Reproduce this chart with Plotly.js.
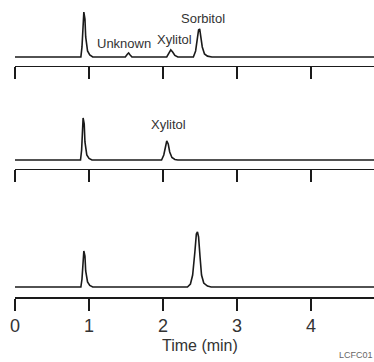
<!DOCTYPE html>
<html>
<head>
<meta charset="utf-8">
<script src="https://cdn.plot.ly/plotly-3.0.1.min.js"></script>
<style>html,body{margin:0;padding:0;background:#fff;}#chart{width:374px;height:362px;}</style>
</head>
<body>
<div id="chart"></div>
<script>
// Chromatogram traces (time in min, detector response in arbitrary units, baseline = 0)
const timeTop = [0, 0.89, 0.905, 0.92, 0.93, 0.945, 0.955, 0.98, 1.01, 1.05, 1.49, 1.52, 1.535, 1.55, 1.58, 2.05, 2.08, 2.105, 2.13, 2.16, 2.2, 2.41, 2.44, 2.46, 2.48, 2.495, 2.51, 2.53, 2.56, 2.6, 2.66, 4.85];
const signalTop = [0, 0, 10, 35, 45, 38, 20, 6, 2, 0, 0, 3, 4, 2.5, 0, 0, 4, 7, 5, 1.5, 0, 0, 6, 18, 27, 28, 22, 10, 3, 0.8, 0, 0];

const timeMid = [0, 0.885, 0.9, 0.91, 0.92, 0.935, 0.945, 0.97, 1.0, 1.04, 1.98, 2.01, 2.03, 2.05, 2.07, 2.09, 2.12, 2.16, 2.2, 4.85];
const signalMid = [0, 0, 10, 32, 42, 36, 18, 5, 1.5, 0, 0, 5, 14, 19, 16, 8, 2.5, 0.5, 0, 0];

const timeBot = [0, 0.89, 0.905, 0.92, 0.93, 0.945, 0.955, 0.98, 1.01, 1.05, 2.33, 2.37, 2.40, 2.43, 2.45, 2.465, 2.48, 2.50, 2.52, 2.55, 2.6, 2.65, 4.85];
const signalBot = [0, 0, 8, 28, 36, 31, 16, 5, 1.5, 0, 0, 3, 12, 35, 53, 55, 50, 30, 12, 4, 1, 0, 0];

// Peak labels: [text, time, response]
const labelsTop = [["Unknown", 1.47, 13], ["Xylitol", 2.15, 17], ["Sorbitol", 2.54, 39]];
const labelsMid = [["Xylitol", 2.07, 35]];
const labelsBot = [["Sorbitol", 2.47, 65]];

const tickVals = [0, 1, 2, 3, 4];
const tickText = ["0", "1", "2", "3", "4"];
const xRange = [0, 4.85];
const axisTitle = "Time (min)";
const figId = "LCFC01";

const FONT = "Liberation Sans, Arial, sans-serif";
const INK = "#1a1a1a";

const lineStyle = {color: INK, width: 1.6};
const traces = [
  {x: timeTop, y: signalTop, xaxis: "x3", yaxis: "y3", mode: "lines", line: lineStyle, hoverinfo: "skip"},
  {x: timeMid, y: signalMid, xaxis: "x2", yaxis: "y2", mode: "lines", line: lineStyle, hoverinfo: "skip"},
  {x: timeBot, y: signalBot, xaxis: "x", yaxis: "y", mode: "lines", line: lineStyle, hoverinfo: "skip"}
];

function xAxis(anchor, showLabels) {
  return {
    anchor: anchor, range: xRange, showline: true, linecolor: INK, linewidth: 1.5,
    ticks: "outside", ticklen: 12, tickwidth: 1.5, tickcolor: INK,
    tickvals: tickVals, ticktext: tickText, showticklabels: showLabels,
    tickfont: {family: FONT, size: 18, color: "#333"},
    showgrid: false, zeroline: false, fixedrange: true
  };
}
function yAxis(domain, range) {
  return {domain: domain, range: range, visible: false, showgrid: false, zeroline: false, fixedrange: true};
}

const annotations = [];
function addLabels(list, xref, yref) {
  list.forEach(l => annotations.push({
    text: l[0], x: l[1], y: l[2], xref: xref, yref: yref, showarrow: false,
    xanchor: "center", yanchor: "middle", font: {family: FONT, size: 13, color: "#333"}
  }));
}
addLabels(labelsTop, "x3", "y3");
addLabels(labelsMid, "x2", "y2");
addLabels(labelsBot, "x", "y");
annotations.push({text: axisTitle, xref: "paper", yref: "paper", x: 0.514, y: -0.162, showarrow: false,
  xanchor: "center", yanchor: "middle", font: {family: FONT, size: 16, color: "#333"}});
annotations.push({text: figId, xref: "paper", yref: "paper", x: 0.898, y: -0.219, showarrow: false,
  xanchor: "left", yanchor: "bottom", font: {family: FONT, size: 9, color: "#666"}});

const layout = {
  width: 374, height: 362,
  margin: {l: 15, r: 0, t: 0, b: 65, pad: 0},
  paper_bgcolor: "#fff", plot_bgcolor: "#fff",
  showlegend: false,
  xaxis: xAxis("y", true),
  xaxis2: xAxis("y2", false),
  xaxis3: xAxis("y3", false),
  yaxis: yAxis([0, 0.229], [-10, 58]),
  yaxis2: yAxis([0.431, 0.613], [-9, 45]),
  yaxis3: yAxis([0.778, 0.973], [-9, 49]),
  annotations: annotations
};

Plotly.newPlot("chart", traces, layout, {staticPlot: true, displayModeBar: false});
</script>
</body>
</html>
